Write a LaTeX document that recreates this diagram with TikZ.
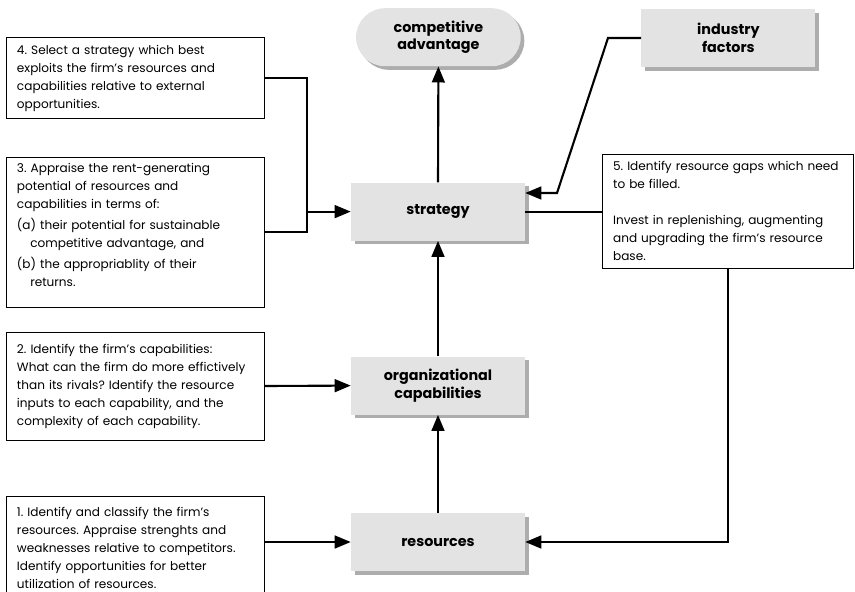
\documentclass[tikz,border=0pt]{standalone}
\usepackage{fontspec}
\setmainfont{Poppins}
\frenchspacing
\usetikzlibrary{shapes.misc,shadows,arrows.meta}

\begin{document}
\begin{tikzpicture}[
        stage/.style = {rectangle,
            fill = black!11,
            minimum width = 4.35cm,
            minimum height = 1.45cm,
            align = center,
            font = \fontsize{10.2}{12.6}\selectfont\bfseries,
            drop shadow = {shadow xshift = 0.09cm, shadow yshift = -0.09cm,
                fill = black!32, opacity = 1},
        },
        note/.style = {rectangle,
            draw,
            line width = 0.7pt,
            fill = white,
            inner xsep = 0.275cm,
            text width = 5.9cm,
            align = left,
            font = \fontsize{8.6}{12.8}\selectfont,
        },
        link/.style = {line width = 1.5pt},
        arrow/.style = {link, -{Triangle[length=0.4cm,width=0.32cm]}},
    ]

        \useasboundingbox (0,0) rectangle (21.375,-14.8);

        % Stages
        \node[stage,rounded rectangle] (advantage) at (10.96,-0.93) {competitive\\advantage};
        \node[stage] (industry) at (18.21,-0.95) {industry\\factors};
        \node[stage] (strategy) at (10.95,-5.29) {strategy};
        \node[stage] (capabilities) at (10.95,-9.64) {organizational\\capabilities};
        \node[stage] (resources) at (10.95,-13.55) {resources};

        % Steps
        \node[note,minimum height=2.025cm] (step4) at (3.375,-1.96)
            {4. Select a strategy which best\\
             exploits the firm’s resources and\\
             capabilities relative to external\\
             opportunities.};
        \node[note,minimum height=3.75cm] (step3) at (3.375,-5.8)
            {3. Appraise the rent-generating\\
             potential of resources and\\
             capabilities in terms of:\\[2pt]
             (a) their potential for sustainable\\
             \hspace*{1.1em}competitive advantage, and\\[2pt]
             (b) the appropriablity of their\\
             \hspace*{1.1em}returns.\\[-3pt]\mbox{}};
        \node[note,minimum height=2.7cm] (step2) at (3.375,-9.65)
            {2. Identify the firm’s capabilities:\\
             What can the firm do more effictively\\
             than its rivals? Identify the resource\\
             inputs to each capability, and the\\
             complexity of each capability.};
        \node[note,minimum height=2.575cm] (step1) at (3.375,-13.71)
            {1. Identify and classify the firm’s\\
             resources. Appraise strenghts and\\
             weaknesses relative to competitors.\\
             Identify opportunities for better\\
             utilization of resources.};
        \node[note,text width=5.725cm,minimum height=2.85cm] (step5) at (18.19,-5.275)
            {5. Identify resource gaps which need\\
             to be filled.\\[12.8pt]
             Invest in replenishing, augmenting\\
             and upgrading the firm’s resource\\
             base.};

        % Junctions
        \coordinate (join) at (7.675,-5.29);
        \coordinate (bendA) at (15.2,-0.95);
        \coordinate (bendB) at (13.925,-4.825);

        % Connectors
        \draw[link] (step4.east) -| (join) |- (step3.east);
        \draw[arrow] (join) -- (strategy.west);
        \draw[arrow] (step2.east) -- (capabilities.west);
        \draw[arrow] (step1.east |- resources.west) -- (resources.west);
        \draw[arrow] (resources.north) -- (capabilities.south);
        \draw[arrow] (capabilities.north) -- (strategy.south);
        \draw[arrow] (strategy.north) -- (advantage.south);
        \draw[arrow] (industry.west) -- (bendA) -- (bendB) -- (bendB -| strategy.east);
        \draw[link] (strategy.east) -- (strategy.east -| step5.west);
        \draw[arrow] (step5.south) |- (resources.east);

    \end{tikzpicture}
\end{document}
